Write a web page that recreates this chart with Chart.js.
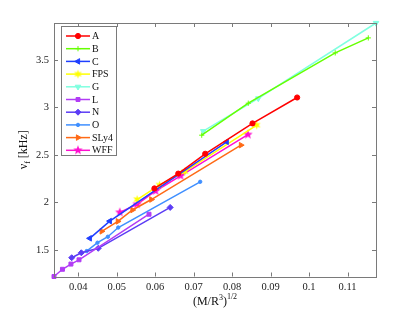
<!DOCTYPE html>
<html>
<head>
<meta charset="utf-8">
<script src="https://cdn.jsdelivr.net/npm/chart.js@4/dist/chart.umd.min.js"></script>
<style>
  html, body { margin: 0; padding: 0; background: #fff; }
  #wrap { width: 415px; height: 312px; }
</style>
</head>
<body>
<div id="wrap"><canvas id="c" width="415" height="312"></canvas></div>
<script>
// series names (legend order)
const names = ["A", "B", "C", "FPS", "G", "L", "N", "O", "SLy4", "WFF"];

// values: x = (M/R^3)^1/2, y = nu_f [kHz]
const xA = [0.0598, 0.0660, 0.0730, 0.0853, 0.0969];
const yA = [2.147, 2.303, 2.512, 2.832, 3.105];
const xB = [0.0721, 0.0842, 0.1068, 0.1154];
const yB = [2.708, 3.045, 3.575, 3.733];
const xC = [0.0430, 0.0482, 0.0786];
const yC = [1.621, 1.803, 2.638];
const xFPS = [0.0553, 0.0611, 0.0677, 0.0864];
const yFPS = [2.030, 2.182, 2.325, 2.814];
const xG = [0.0725, 0.0868, 0.1174];
const yG = [2.750, 3.095, 3.890];
const xL = [0.0337, 0.0359, 0.0381, 0.0402, 0.0584];
const yL = [1.219, 1.295, 1.350, 1.395, 1.875];
const xN = [0.0383, 0.0408, 0.0452, 0.0639];
const yN = [1.417, 1.469, 1.516, 1.947];
const xO = [0.0422, 0.0450, 0.0477, 0.0504, 0.0717];
const yO = [1.487, 1.575, 1.638, 1.735, 2.217];
const xSLy4 = [0.0461, 0.0503, 0.0541, 0.0590, 0.0823];
const ySLy4 = [1.695, 1.800, 1.920, 2.030, 2.603];
const xWFF = [0.0508, 0.0553, 0.0601, 0.0666, 0.0841];
const yWFF = [1.895, 1.980, 2.120, 2.280, 2.715];

// tick labels
const xTicks = [0.04, 0.05, 0.06, 0.07, 0.08, 0.09, 0.1, 0.11];
const xTickLabels = ["0.04", "0.05", "0.06", "0.07", "0.08", "0.09", "0.1", "0.11"];
const yTicks = [1.5, 2, 2.5, 3, 3.5];
const yTickLabels = ["1.5", "2", "2.5", "3", "3.5"];

const colors = ["#ff0000", "#66ff00", "#1f3fff", "#ffff00", "#80ffe0",
                "#b23cf5", "#5b3cf5", "#3f8fff", "#ff6a16", "#ff10d0"];

// filled star markers (pentagram / hexagram)
function starCanvas(n, r, color) {
  const s = Math.ceil(r * 2 + 2);
  const cv = document.createElement("canvas");
  cv.width = s; cv.height = s;
  const g = cv.getContext("2d");
  g.fillStyle = color;
  g.beginPath();
  for (let i = 0; i < n * 2; i++) {
    const rr = i % 2 === 0 ? r : r * 0.42;
    const a = -Math.PI / 2 + i * Math.PI / n;
    const px = s / 2 + rr * Math.cos(a), py = s / 2 + rr * Math.sin(a);
    if (i === 0) g.moveTo(px, py); else g.lineTo(px, py);
  }
  g.closePath();
  g.fill();
  return cv;
}

const markers = [
  { pointStyle: "circle", radius: 2.6, rotation: 0 },
  { pointStyle: "cross", radius: 2.6, rotation: 0 },
  { pointStyle: "triangle", radius: 3.2, rotation: -90 },
  { pointStyle: starCanvas(6, 4.5, colors[3]), radius: 4, rotation: 0 },
  { pointStyle: "triangle", radius: 3.2, rotation: 180 },
  { pointStyle: "rect", radius: 2.8, rotation: 0 },
  { pointStyle: "rectRot", radius: 3, rotation: 0 },
  { pointStyle: "circle", radius: 1.7, rotation: 0 },
  { pointStyle: "triangle", radius: 3.2, rotation: 90 },
  { pointStyle: starCanvas(5, 5, colors[9]), radius: 4, rotation: 0 }
];

const xs = [xA, xB, xC, xFPS, xG, xL, xN, xO, xSLy4, xWFF];
const ys = [yA, yB, yC, yFPS, yG, yL, yN, yO, ySLy4, yWFF];

const datasets = names.map((n, i) => ({
  label: n,
  data: xs[i].map((x, j) => ({ x: x, y: ys[i][j] })),
  showLine: true,
  borderColor: colors[i],
  backgroundColor: colors[i],
  borderWidth: 1.5,
  pointStyle: markers[i].pointStyle,
  pointRadius: markers[i].radius,
  pointRotation: markers[i].rotation,
  pointBorderWidth: 1,
  pointBorderColor: colors[i],
  pointBackgroundColor: colors[i],
  clip: false
}));

const AXIS = "#7a7a7a";
const SERIF = "'Liberation Serif', 'DejaVu Serif', serif";

// box, inward ticks, axis titles and legend like the original figure
const decor = {
  id: "decor",
  afterDatasetsDraw(chart) {
    const ctx = chart.ctx;
    const a = chart.chartArea;
    const sx = chart.scales.x, sy = chart.scales.y;
    ctx.save();
    ctx.strokeStyle = AXIS;
    ctx.lineWidth = 1;
    ctx.strokeRect(Math.round(a.left) + 0.5, Math.round(a.top) + 0.5,
      Math.round(a.right - a.left), Math.round(a.bottom - a.top));
    ctx.beginPath();
    xTicks.forEach(v => {
      const px = Math.round(sx.getPixelForValue(v)) + 0.5;
      ctx.moveTo(px, a.bottom); ctx.lineTo(px, a.bottom - 4);
      ctx.moveTo(px, a.top); ctx.lineTo(px, a.top + 4);
    });
    yTicks.forEach(v => {
      const py = Math.round(sy.getPixelForValue(v)) + 0.5;
      ctx.moveTo(a.left, py); ctx.lineTo(a.left + 4, py);
      ctx.moveTo(a.right, py); ctx.lineTo(a.right - 4, py);
    });
    ctx.stroke();

    // x title: (M/R^3)^1/2
    ctx.fillStyle = "#111";
    ctx.textBaseline = "alphabetic";
    const big = "12px " + SERIF, small = "8px " + SERIF;
    const parts = [["(M/R", big, 0], ["3", small, -5], [")", big, 0], ["1/2", small, -6]];
    let w = 0;
    parts.forEach(p => { ctx.font = p[1]; w += ctx.measureText(p[0]).width; });
    let cx = (a.left + a.right) / 2 - w / 2;
    parts.forEach(p => {
      ctx.font = p[1];
      ctx.fillText(p[0], cx, 305 + p[2]);
      cx += ctx.measureText(p[0]).width;
    });

    // y title: nu_f [kHz]
    ctx.save();
    ctx.translate(27, (a.top + a.bottom) / 2);
    ctx.rotate(-Math.PI / 2);
    const yparts = [["\u03bd", big, 0], ["f", small, 3], [" [kHz]", big, 0]];
    w = 0;
    yparts.forEach(p => { ctx.font = p[1]; w += ctx.measureText(p[0]).width; });
    cx = -w / 2;
    yparts.forEach(p => {
      ctx.font = p[1];
      ctx.fillText(p[0], cx, p[2]);
      cx += ctx.measureText(p[0]).width;
    });
    ctx.restore();

    // legend
    const lx = 61.5, ly = 26.5, lw = 55, lh = 129;
    ctx.fillStyle = "#fff";
    ctx.fillRect(lx, ly, lw, lh);
    ctx.strokeStyle = AXIS;
    ctx.lineWidth = 1;
    ctx.strokeRect(lx, ly, lw, lh);
    ctx.font = "10px " + SERIF;
    ctx.textBaseline = "middle";
    names.forEach((n, i) => {
      const y = 36 + i * 12.7;
      ctx.strokeStyle = colors[i];
      ctx.lineWidth = 1.5;
      ctx.beginPath();
      ctx.moveTo(66, y); ctx.lineTo(90, y);
      ctx.stroke();
      ctx.fillStyle = colors[i];
      ctx.lineWidth = 1;
      Chart.helpers.drawPoint(ctx, {
        pointStyle: markers[i].pointStyle,
        radius: markers[i].radius,
        rotation: markers[i].rotation,
        borderWidth: 1
      }, 78, y);
      ctx.fillStyle = "#111";
      ctx.fillText(n, 92, y + 0.5);
    });
    ctx.restore();
  }
};

new Chart(document.getElementById("c"), {
  type: "scatter",
  data: { datasets: datasets },
  options: {
    responsive: false,
    animation: false,
    events: [],
    layout: { padding: { left: 0, top: 23, right: 39, bottom: 0 } },
    plugins: { legend: { display: false }, tooltip: { enabled: false } },
    scales: {
      x: {
        type: "linear",
        min: 0.0337,
        max: 0.1174,
        grid: { display: false, drawTicks: false },
        border: { display: false },
        afterBuildTicks: s => { s.ticks = xTicks.map(v => ({ value: v })); },
        afterFit: s => { s.height = 35.5; },
        ticks: {
          padding: 4,
          color: "#222",
          font: { family: SERIF, size: 10.5 },
          maxRotation: 0,
          autoSkip: false,
          callback: (v, i) => xTickLabels[i]
        }
      },
      y: {
        type: "linear",
        min: 1.219,
        max: 3.89,
        grid: { display: false, drawTicks: false },
        border: { display: false },
        afterBuildTicks: s => { s.ticks = yTicks.map(v => ({ value: v })); },
        afterFit: s => { s.width = 54; },
        ticks: {
          padding: 5,
          color: "#222",
          font: { family: SERIF, size: 10.5 },
          autoSkip: false,
          callback: (v, i) => yTickLabels[i]
        }
      }
    }
  },
  plugins: [decor]
});
</script>
</body>
</html>
